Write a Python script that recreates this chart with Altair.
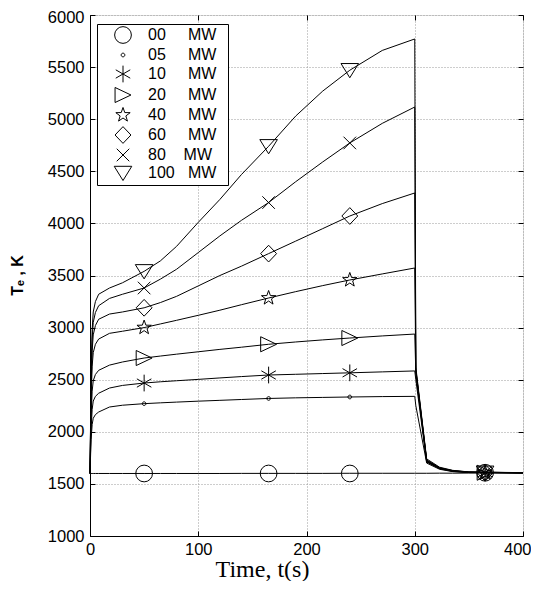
import altair as alt
import pandas as pd

# ---------------- data ----------------
times = [0, 1, 2, 3, 5, 8, 18, 30, 50, 65, 80, 100, 120, 140, 165, 190, 215,
         240, 270, 300, 301, 311, 323, 335, 350, 400]

temp_00 = [1600, 1600, 1600, 1600, 1600, 1600, 1600, 1600, 1600, 1600, 1600, 1600, 1600,
           1601, 1601, 1601, 1601, 1602, 1602, 1602, 1602, 1602, 1603, 1603, 1604, 1605]
temp_05 = [1600, 1925, 2070, 2130, 2165, 2190, 2238, 2255, 2270, 2278, 2285, 2294, 2302,
           2310, 2320, 2326, 2330, 2334, 2338, 2340, 2250, 1700, 1640, 1618, 1609, 1605]
temp_10 = [1600, 2020, 2215, 2295, 2340, 2370, 2420, 2445, 2468, 2480, 2490, 2503, 2517,
           2530, 2545, 2552, 2559, 2566, 2575, 2584, 2500, 1710, 1645, 1620, 1610, 1605]
temp_20 = [1600, 2145, 2390, 2490, 2550, 2590, 2640, 2670, 2708, 2727, 2745, 2768, 2791,
           2812, 2840, 2862, 2882, 2900, 2920, 2938, 2560, 1715, 1648, 1622, 1611, 1606]
temp_40 = [1600, 2310, 2630, 2760, 2840, 2890, 2945, 2965, 3000, 3035, 3070, 3118, 3167,
           3220, 3284, 3345, 3403, 3457, 3515, 3572, 2580, 1720, 1650, 1624, 1612, 1606]
temp_60 = [1600, 2410, 2780, 2930, 3020, 3080, 3130, 3150, 3190, 3240, 3300, 3400, 3500,
           3590, 3710, 3830, 3950, 4071, 4190, 4292, 2590, 1725, 1652, 1626, 1613, 1607]
temp_80 = [1600, 2490, 2890, 3050, 3145, 3210, 3280, 3320, 3380, 3465, 3560, 3720, 3880,
           4030, 4200, 4400, 4590, 4772, 4960, 5117, 2600, 1730, 1655, 1628, 1614, 1607]
temp_100 = [1600, 2550, 2980, 3150, 3250, 3320, 3380, 3430, 3540, 3640, 3780, 4010, 4230,
            4470, 4740, 5030, 5270, 5470, 5660, 5770, 2620, 1740, 1660, 1630, 1615, 1608]

marker_times = [50, 165, 240, 365]
mark_00 = [1600, 1600, 1600, 1607]
mark_05 = [2270, 2320, 2334, 1607]
mark_10 = [2468, 2545, 2566, 1607]
mark_20 = [2708, 2840, 2900, 1607]
mark_40 = [3000, 3284, 3457, 1607]
mark_60 = [3190, 3710, 4071, 1607]
mark_80 = [3380, 4200, 4772, 1607]
mark_100 = [3540, 4740, 5470, 1607]

x_ticks = [0, 100, 200, 300, 400]
y_ticks = [1000, 1500, 2000, 2500, 3000, 3500, 4000, 4500, 5000, 5500, 6000]

NB = "\u00a0"
END = NB * 2 + "\u200b"
legend_labels = [
    "00" + NB * 5 + "MW" + END,
    "05" + NB * 5 + "MW" + END,
    "10" + NB * 5 + "MW" + END,
    "20" + NB * 5 + "MW" + END,
    "40" + NB * 5 + "MW" + END,
    "60" + NB * 5 + "MW" + END,
    NB + "80" + NB * 4 + "MW" + END,
    "100" + NB * 3 + "MW" + END,
]

# marker glyphs (unit box -1..1)
STAR = ("M0,-0.9L0.212,-0.291L0.856,-0.278L0.342,0.111L0.529,0.728L0,0.36"
        "L-0.529,0.728L-0.342,0.111L-0.856,-0.278L-0.212,-0.291Z")
shapes = [
    "circle",
    "M0,-0.22A0.22,0.22,0,1,1,0,0.22A0.22,0.22,0,1,1,0,-0.22Z",
    "M0,-1L0,1M-0.866,-0.5L0.866,0.5M-0.866,0.5L0.866,-0.5",
    "M-0.95,-0.9L0.95,0L-0.95,0.9Z",
    STAR,
    "M0,-1L0.95,0L0,1L-0.95,0Z",
    "M-0.75,-0.75L0.75,0.75M-0.75,0.75L0.75,-0.75",
    "M-1.05,-0.8L1.05,-0.8L0,0.9Z",
]

line_series = [temp_00, temp_05, temp_10, temp_20, temp_40, temp_60, temp_80, temp_100]
mark_series = [mark_00, mark_05, mark_10, mark_20, mark_40, mark_60, mark_80, mark_100]

line_rows = []
for lab, vals in zip(legend_labels, line_series):
    for t, v in zip(times, vals):
        line_rows.append({"series": lab, "t": t, "T": v})
lines_df = pd.DataFrame(line_rows)

mark_rows = []
for lab, vals in zip(legend_labels, mark_series):
    for t, v in zip(marker_times, vals):
        mark_rows.append({"series": lab, "t": t, "T": v})
marks_df = pd.DataFrame(mark_rows)

W, H = 433, 521
x_scale = alt.Scale(domain=[0, 400], nice=False)
y_scale = alt.Scale(domain=[1000, 6000], nice=False)

grid_kw = dict(grid=True, gridColor="#9a9a9a", gridDash=[1, 2], gridWidth=1)

x_main = alt.X(
    "t:Q", scale=x_scale,
    axis=alt.Axis(
        values=x_ticks, title="Time, t(s)", titleFont="Liberation Serif",
        titleFontSize=24, titleFontWeight="normal", titleColor="black",
        titleX=172, titleY=40, titleBaseline="alphabetic", titleAlign="center",
        labelFont="Liberation Sans", labelFontSize=16.5, labelColor="black",
        labelPadding=5, labelFlush=False, ticks=False, domainColor="black",
        labelAlign={"condition": {"test": "datum.value >= 400", "value": "right"},
                    "value": "center"},
        labelOffset={"condition": {"test": "datum.value >= 400", "value": 8},
                     "value": 0},
        format="d", **grid_kw,
    ),
)
y_main = alt.Y(
    "T:Q", scale=y_scale,
    axis=alt.Axis(
        values=y_ticks, title="T\u2091 , K", titleFont="Liberation Sans",
        titleFontSize=16, titleFontWeight="bold", titleColor="black",
        titleX=-68, titleY=260, titleBaseline="alphabetic", titleAlign="center",
        labelFont="Liberation Sans", labelFontSize=16.5, labelColor="black",
        labelPadding=6, labelFlush=False, ticks=False, domainColor="black",
        labelOffset={"condition": {"test": "datum.value >= 6000", "value": 2},
                     "value": 0},
        format="d", **grid_kw,
    ),
)


def tick_axis(vals, orient, offset):
    return alt.Axis(
        values=vals, orient=orient, offset=offset, labels=False, title="",
        domain=False, grid=False, ticks=True, tickSize=5, tickColor="black",
        tickWidth=1,
    )


lines = alt.Chart(lines_df).mark_line(color="black", strokeWidth=1).encode(
    x=x_main, y=y_main, detail="series:N", order="t:Q"
)

points = alt.Chart(marks_df).mark_point(
    filled=False, color="black", strokeWidth=1, size=280, opacity=1
).encode(
    x=alt.X("t:Q", scale=x_scale, axis=tick_axis(x_ticks, "top", -H)),
    y=alt.Y("T:Q", scale=y_scale, axis=tick_axis(y_ticks, "right", -W)),
    shape=alt.Shape(
        "series:N",
        scale=alt.Scale(domain=legend_labels, range=shapes),
        legend=alt.Legend(
            title=None, orient="none", legendX=7, legendY=9,
            strokeColor="black", fillColor="white", padding=2,
            symbolOffset=15, symbolSize=280, symbolStrokeColor="black",
            symbolStrokeWidth=1, symbolFillColor="transparent",
            labelFont="Liberation Sans", labelFontSize=16, labelColor="black",
            labelOffset=16, rowPadding=0, labelLimit=300,
        ),
    ),
)

ghost = alt.Chart(marks_df).mark_point(opacity=0).encode(
    x=alt.X("t:Q", scale=x_scale, axis=tick_axis(x_ticks, "bottom", -H)),
    y=alt.Y("T:Q", scale=y_scale, axis=tick_axis(y_ticks, "left", -W)),
)

chart = alt.layer(lines, points, ghost).resolve_axis(
    x="independent", y="independent"
).properties(
    width=W, height=H,
    padding={"left": 82, "top": 7, "right": 8, "bottom": 45},
    autosize=alt.AutoSizeParams(type="none"),
).configure_view(stroke="black", strokeWidth=1).configure(background="white")

chart.save("out.html", embed_options={"renderer": "svg", "actions": False})
